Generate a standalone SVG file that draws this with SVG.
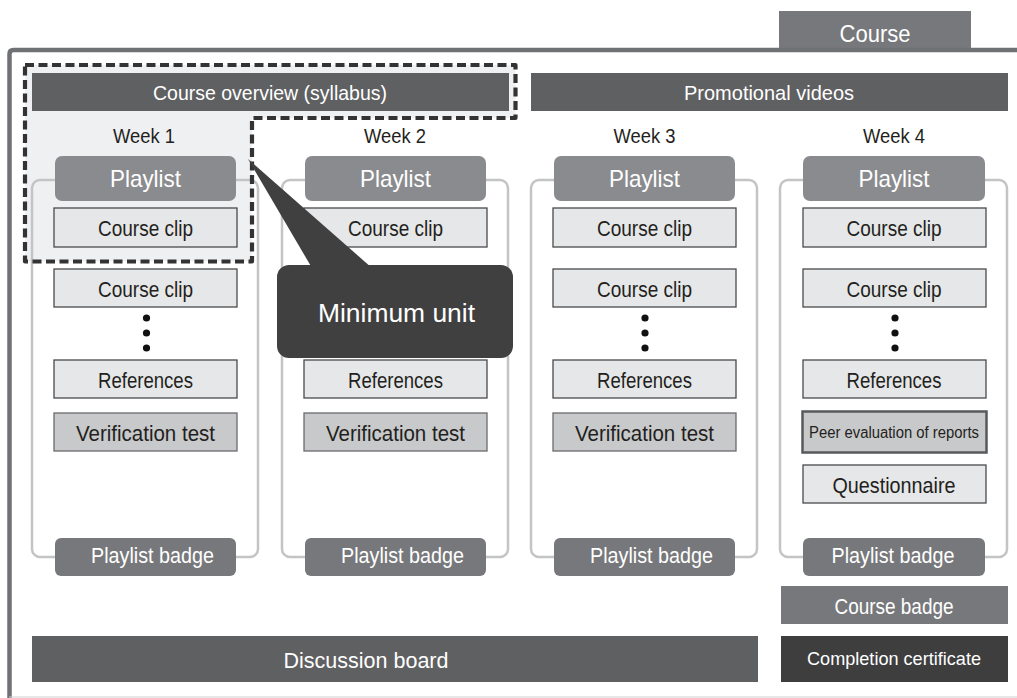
<svg xmlns="http://www.w3.org/2000/svg" width="1017" height="698" viewBox="0 0 1017 698">
  <style>
    text { font-family: "Liberation Sans", Arial, sans-serif; text-anchor: middle; }
    .light { fill: #ffffff; }
    .dark { fill: #231f20; }
    .frame { fill: none; stroke: #c3c4c6; stroke-width: 2.5; }
    .head { fill: #8a8b8e; }
    .badge { fill: #77787b; }
    .bar { fill: #5f6062; }
    .box { fill: #e6e7e8; stroke: #4a4a4c; stroke-width: 1.3; }
    .test { fill: #c8c9cb; stroke: #6a6b6d; stroke-width: 1.3; }
    .dot { fill: #111111; }
  </style>

  <rect width="1017" height="698" fill="#ffffff"/>

  <!-- course tab and outer frame -->
  <g id="course">
    <rect x="779" y="11" width="192" height="40" fill="#77787b"/>
    <text class="light" x="875" y="42" font-size="23" textLength="71" lengthAdjust="spacingAndGlyphs">Course</text>
    <path d="M9.5,698 V54 Q9.5,50 13.5,50 H1017" fill="none" stroke="#707174" stroke-width="4.5"/>
    <line x1="9" y1="697" x2="1017" y2="697" stroke="#cfd0d2" stroke-width="1.2"/>
  </g>

  <!-- minimum unit region (fill) -->
  <g id="minimum-unit-area">
    <path d="M25,65 H515.5 V118 H252 V261.5 H25 Z" fill="#eff0f2"/>
  </g>

  <!-- top bars -->
  <g id="course-overview">
    <rect class="bar" x="32" y="73" width="477" height="38"/>
    <text class="light" x="270" y="100" font-size="21" textLength="234" lengthAdjust="spacingAndGlyphs">Course overview (syllabus)</text>
  </g>
  <g id="promotional-videos">
    <rect class="bar" x="531" y="73" width="477" height="38"/>
    <text class="light" x="769" y="100" font-size="21" textLength="170" lengthAdjust="spacingAndGlyphs">Promotional videos</text>
  </g>

  <!-- week 1 -->
  <g id="week1">
    <text class="dark" x="144" y="143" font-size="21" textLength="62" lengthAdjust="spacingAndGlyphs">Week 1</text>
    <rect class="frame" x="32" y="180" width="226" height="377" rx="8"/>
    <rect class="head" x="55" y="156" width="181" height="45" rx="7"/>
    <text class="light" x="145.5" y="187" font-size="24" textLength="71" lengthAdjust="spacingAndGlyphs">Playlist</text>
    <rect class="box" x="54" y="208" width="183" height="39"/>
    <text class="dark" x="145.5" y="236" font-size="22" textLength="95" lengthAdjust="spacingAndGlyphs">Course clip</text>
    <rect class="box" x="54" y="269" width="183" height="38"/>
    <text class="dark" x="145.5" y="297" font-size="22" textLength="95" lengthAdjust="spacingAndGlyphs">Course clip</text>
    <circle class="dot" cx="146.5" cy="318" r="3.6"/>
    <circle class="dot" cx="146.5" cy="333" r="3.6"/>
    <circle class="dot" cx="146.5" cy="348" r="3.6"/>
    <rect class="box" x="54" y="360" width="183" height="38"/>
    <text class="dark" x="145.5" y="388" font-size="22" textLength="95" lengthAdjust="spacingAndGlyphs">References</text>
    <rect class="test" x="54" y="413" width="183" height="38"/>
    <text class="dark" x="145.5" y="441" font-size="22" textLength="139" lengthAdjust="spacingAndGlyphs">Verification test</text>
    <rect class="badge" x="55" y="538" width="181" height="38" rx="6"/>
    <text class="light" x="152.5" y="563" font-size="22" textLength="123" lengthAdjust="spacingAndGlyphs">Playlist badge</text>
  </g>

  <!-- week 2 (its middle items sit under the callout) -->
  <g id="week2">
    <text class="dark" x="395" y="143" font-size="21" textLength="62" lengthAdjust="spacingAndGlyphs">Week 2</text>
    <rect class="frame" x="282" y="180" width="226" height="377" rx="8"/>
    <rect class="head" x="305" y="156" width="181" height="45" rx="7"/>
    <text class="light" x="395.5" y="187" font-size="24" textLength="71" lengthAdjust="spacingAndGlyphs">Playlist</text>
    <rect class="box" x="304" y="208" width="183" height="39"/>
    <text class="dark" x="395.5" y="236" font-size="22" textLength="95" lengthAdjust="spacingAndGlyphs">Course clip</text>
    <rect class="box" x="304" y="360" width="183" height="38"/>
    <text class="dark" x="395.5" y="388" font-size="22" textLength="95" lengthAdjust="spacingAndGlyphs">References</text>
    <rect class="test" x="304" y="413" width="183" height="38"/>
    <text class="dark" x="395.5" y="441" font-size="22" textLength="139" lengthAdjust="spacingAndGlyphs">Verification test</text>
    <rect class="badge" x="305" y="538" width="181" height="38" rx="6"/>
    <text class="light" x="402.5" y="563" font-size="22" textLength="123" lengthAdjust="spacingAndGlyphs">Playlist badge</text>
  </g>

  <!-- week 3 -->
  <g id="week3">
    <text class="dark" x="644.5" y="143" font-size="21" textLength="62" lengthAdjust="spacingAndGlyphs">Week 3</text>
    <rect class="frame" x="531" y="180" width="226" height="377" rx="8"/>
    <rect class="head" x="554" y="156" width="181" height="45" rx="7"/>
    <text class="light" x="644.5" y="187" font-size="24" textLength="71" lengthAdjust="spacingAndGlyphs">Playlist</text>
    <rect class="box" x="553" y="208" width="183" height="39"/>
    <text class="dark" x="644.5" y="236" font-size="22" textLength="95" lengthAdjust="spacingAndGlyphs">Course clip</text>
    <rect class="box" x="553" y="269" width="183" height="38"/>
    <text class="dark" x="644.5" y="297" font-size="22" textLength="95" lengthAdjust="spacingAndGlyphs">Course clip</text>
    <circle class="dot" cx="645" cy="318" r="3.6"/>
    <circle class="dot" cx="645" cy="333" r="3.6"/>
    <circle class="dot" cx="645" cy="348" r="3.6"/>
    <rect class="box" x="553" y="360" width="183" height="38"/>
    <text class="dark" x="644.5" y="388" font-size="22" textLength="95" lengthAdjust="spacingAndGlyphs">References</text>
    <rect class="test" x="553" y="413" width="183" height="38"/>
    <text class="dark" x="644.5" y="441" font-size="22" textLength="139" lengthAdjust="spacingAndGlyphs">Verification test</text>
    <rect class="badge" x="554" y="538" width="181" height="38" rx="6"/>
    <text class="light" x="651.5" y="563" font-size="22" textLength="123" lengthAdjust="spacingAndGlyphs">Playlist badge</text>
  </g>

  <!-- week 4 -->
  <g id="week4">
    <text class="dark" x="894" y="143" font-size="21" textLength="62" lengthAdjust="spacingAndGlyphs">Week 4</text>
    <rect class="frame" x="780" y="180" width="227" height="377" rx="8"/>
    <rect class="head" x="803" y="156" width="182" height="45" rx="7"/>
    <text class="light" x="894" y="187" font-size="24" textLength="71" lengthAdjust="spacingAndGlyphs">Playlist</text>
    <rect class="box" x="803" y="208" width="183" height="39"/>
    <text class="dark" x="894" y="236" font-size="22" textLength="95" lengthAdjust="spacingAndGlyphs">Course clip</text>
    <rect class="box" x="803" y="269" width="183" height="38"/>
    <text class="dark" x="894" y="297" font-size="22" textLength="95" lengthAdjust="spacingAndGlyphs">Course clip</text>
    <circle class="dot" cx="895" cy="318" r="3.6"/>
    <circle class="dot" cx="895" cy="333" r="3.6"/>
    <circle class="dot" cx="895" cy="348" r="3.6"/>
    <rect class="box" x="803" y="360" width="183" height="38"/>
    <text class="dark" x="894" y="388" font-size="22" textLength="95" lengthAdjust="spacingAndGlyphs">References</text>
    <rect x="802.5" y="411.5" width="184" height="41" fill="#c8c9cb" stroke="#58595b" stroke-width="2.5"/>
    <text class="dark" x="894" y="438" font-size="16" textLength="170" lengthAdjust="spacingAndGlyphs">Peer evaluation of reports</text>
    <rect class="box" x="803" y="465" width="183" height="38"/>
    <text class="dark" x="894" y="493" font-size="22" textLength="123" lengthAdjust="spacingAndGlyphs">Questionnaire</text>
    <rect class="badge" x="803" y="538" width="182" height="38" rx="6"/>
    <text class="light" x="893" y="563" font-size="22" textLength="123" lengthAdjust="spacingAndGlyphs">Playlist badge</text>
  </g>

  <!-- course-level items -->
  <g id="course-badge">
    <rect class="badge" x="781" y="586" width="227" height="38"/>
    <text class="light" x="894" y="614" font-size="22" textLength="119" lengthAdjust="spacingAndGlyphs">Course badge</text>
  </g>
  <g id="completion-certificate">
    <rect x="781" y="636" width="227" height="46" fill="#3e3e3f"/>
    <text class="light" x="894" y="665" font-size="19" textLength="174" lengthAdjust="spacingAndGlyphs">Completion certificate</text>
  </g>
  <g id="discussion-board">
    <rect class="bar" x="32" y="636" width="726" height="46"/>
    <text class="light" x="366" y="668" font-size="22" textLength="165" lengthAdjust="spacingAndGlyphs">Discussion board</text>
  </g>

  <!-- minimum unit outline -->
  <g id="minimum-unit-outline">
    <path d="M25,65 H515.5 V118 H252 V261.5 H25 Z" fill="none" stroke="#333334" stroke-width="4.2" stroke-dasharray="9 4.5" stroke-linejoin="round"/>
  </g>

  <!-- callout pointing at the minimum unit -->
  <g id="minimum-unit-callout">
    <polygon points="248,159 312,268 372,268" fill="#404041"/>
    <rect x="277" y="265" width="236" height="93" rx="12" fill="#404041"/>
    <text class="light" x="396.5" y="322" font-size="26" textLength="157" lengthAdjust="spacingAndGlyphs">Minimum unit</text>
  </g>
</svg>
